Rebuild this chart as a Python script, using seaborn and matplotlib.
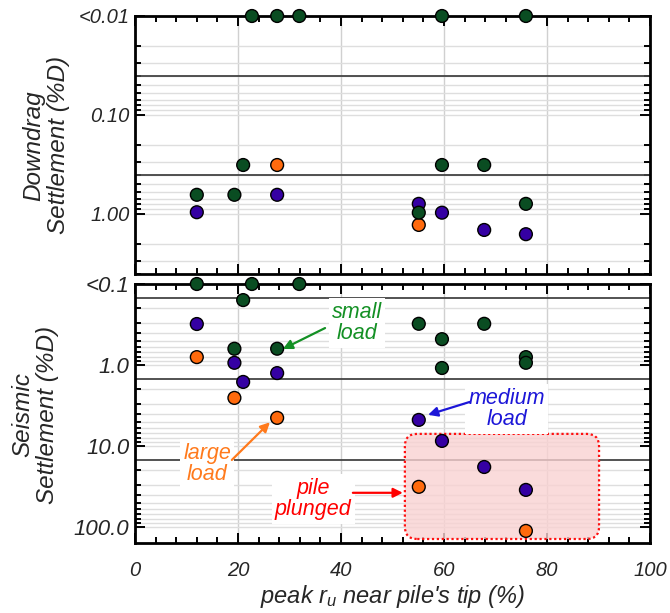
import numpy as np
import pandas as pd
import matplotlib
matplotlib.use('Agg')
import matplotlib.pyplot as plt
import seaborn as sns
from matplotlib.ticker import FixedLocator, FixedFormatter, MultipleLocator, LogLocator, NullFormatter
from matplotlib.patches import FancyBboxPatch

sns.set_style('ticks')
plt.rcParams['font.family'] = ['Liberation Sans', 'DejaVu Sans']
plt.rcParams['font.style'] = 'italic'
plt.rcParams['mathtext.fontset'] = 'custom'
plt.rcParams['mathtext.it'] = 'Liberation Sans:italic'
plt.rcParams['mathtext.rm'] = 'Liberation Sans:italic'

# ---------------- data ----------------
# Downdrag settlement (%D); "<0.01" plotted at 0.01
dd_small_x = [22.7, 27.6, 31.9, 59.6, 75.9, 21.0, 12.0, 19.3, 59.6, 67.8, 55.1, 75.9]
dd_small_y = [0.01, 0.01, 0.01, 0.01, 0.01, 0.32, 0.64, 0.64, 0.32, 0.32, 0.97, 0.79]
dd_medium_x = [12.0, 27.6, 55.1, 59.6, 67.8, 75.9]
dd_medium_y = [0.96, 0.64, 0.79, 0.97, 1.45, 1.60]
dd_large_x = [27.6, 55.1]
dd_large_y = [0.32, 1.29]

# Seismic settlement (%D); "<0.1" plotted at 0.1
s_small_x = [12.0, 22.7, 31.9, 21.0, 19.3, 27.6, 55.1, 67.8, 59.6, 75.9, 75.9, 59.6]
s_small_y = [0.1, 0.1, 0.1, 0.158, 0.63, 0.63, 0.31, 0.31, 0.48, 0.80, 0.94, 1.09]
s_medium_x = [12.0, 19.3, 27.6, 21.0, 55.1, 59.6, 67.8, 75.9]
s_medium_y = [0.312, 0.94, 1.26, 1.62, 4.77, 8.67, 18.2, 34.9]
s_large_x = [12.0, 19.3, 27.6, 55.1, 75.9]
s_large_y = [0.80, 2.55, 4.5, 32.0, 112.0]

load_names = ['medium', 'large', 'small']
load_colors = {'small': '#0a4d22', 'medium': '#3500a3', 'large': '#ff6a0d'}

top_ticks = [0.01, 0.1, 1.0]
top_labels = ['<0.01', '0.10', '1.00']
bot_ticks = [0.1, 1.0, 10.0, 100.0]
bot_labels = ['<0.1', '1.0', '10.0', '100.0']
x_ticks = [0, 20, 40, 60, 80, 100]
x_labels = ['0', '20', '40', '60', '80', '100']

top_ref_lines = [0.04, 0.4]
bot_ref_lines = [0.15, 1.5, 15.0]


def make_df(groups):
    rows = []
    for name, xs, ys in groups:
        for xv, yv in zip(xs, ys):
            rows.append({'ru': xv, 'settle': yv, 'load': name})
    return pd.DataFrame(rows)


df_dd = make_df([('medium', dd_medium_x, dd_medium_y),
                 ('large', dd_large_x, dd_large_y),
                 ('small', dd_small_x, dd_small_y)])
df_s = make_df([('medium', s_medium_x, s_medium_y),
                ('large', s_large_x, s_large_y),
                ('small', s_small_x, s_small_y)])

fig = plt.figure(figsize=(6.7, 6.13), dpi=100)
ax1 = fig.add_axes([0.2015, 0.553, 0.7687, 0.4209])
ax2 = fig.add_axes([0.2015, 0.1142, 0.7687, 0.4225])


def style_axis(ax, df, ylim, ticks, labels, reflines, ylab_size, show_x):
    sns.scatterplot(data=df, x='ru', y='settle', hue='load', palette=load_colors,
                    s=85, edgecolor='black', linewidth=1.0, legend=False,
                    ax=ax, zorder=6, clip_on=False)
    ax.set_yscale('log')
    ax.set_ylim(*ylim)
    ax.set_xlim(0, 100)
    ax.set_xlabel('')
    ax.set_ylabel('')
    ax.yaxis.set_major_locator(FixedLocator(ticks))
    ax.yaxis.set_major_formatter(FixedFormatter(labels))
    ax.yaxis.set_minor_locator(LogLocator(base=10, subs=np.arange(2, 10)))
    ax.yaxis.set_minor_formatter(NullFormatter())
    ax.xaxis.set_major_locator(FixedLocator(x_ticks))
    ax.xaxis.set_minor_locator(MultipleLocator(4))
    if show_x:
        ax.xaxis.set_major_formatter(FixedFormatter(x_labels))
    else:
        ax.xaxis.set_major_formatter(NullFormatter())
    ax.yaxis.grid(True, which='both', color='#dedede', lw=1.0, zorder=0)
    ax.xaxis.grid(True, which='major', color='#d0d0d0', lw=1.0, zorder=0)
    ax.set_axisbelow(True)
    for r in reflines:
        ax.axhline(r, color='#444444', lw=1.3, zorder=1)
    ax.tick_params(which='both', direction='in', top=True, right=True,
                   width=1.4, color='black')
    ax.tick_params(which='major', length=7)
    ax.tick_params(which='minor', length=4.5)
    ax.tick_params(axis='y', which='major', labelsize=ylab_size, pad=4)
    ax.tick_params(axis='x', which='major', labelsize=14.5, pad=13)
    for sp in ax.spines.values():
        sp.set_linewidth(2.0)
        sp.set_color('black')
        sp.set_zorder(5)


style_axis(ax1, df_dd, (4.04, 0.01), top_ticks, top_labels, top_ref_lines, 14.5, False)
style_axis(ax2, df_s, (158, 0.1), bot_ticks, bot_labels, bot_ref_lines, 16, True)

ax2.set_xlabel(r"peak $r_u$ near pile's tip (%)", fontsize=17, labelpad=2)
fig.text(0.0687, 0.763, 'Downdrag\nSettlement (%D)', rotation=90, ha='center',
         va='center', fontsize=17.5, linespacing=1.1)
fig.text(0.052, 0.323, 'Seismic\nSettlement (%D)', rotation=90, ha='center',
         va='center', fontsize=17.5, linespacing=1.1)

# pink "pile plunged" region
x0, x1, ya, yb = 52.4, 90.1, 7.1, 141.0
ylo, yhi = np.log10(0.1), np.log10(158)
fy = lambda v: 1 - (np.log10(v) - ylo) / (yhi - ylo)
box = FancyBboxPatch((x0 / 100, fy(yb)), (x1 - x0) / 100, fy(ya) - fy(yb),
                     boxstyle='round,pad=0,rounding_size=0.024',
                     mutation_aspect=515 / 259, transform=ax2.transAxes,
                     facecolor='#f9d2d2', alpha=0.8, edgecolor='none', zorder=2)
ax2.add_patch(box)
box2 = FancyBboxPatch((x0 / 100, fy(yb)), (x1 - x0) / 100, fy(ya) - fy(yb),
                      boxstyle='round,pad=0,rounding_size=0.024',
                      mutation_aspect=515 / 259, transform=ax2.transAxes,
                      facecolor='none', edgecolor='#ff1010', lw=1.6,
                      linestyle=(0, (1, 1.2)), zorder=3)
ax2.add_patch(box2)

bbox_w = dict(boxstyle='square,pad=0.15', facecolor='white', edgecolor='none')


def note(text, color, xy_text, tail, head):
    ax2.text(*xy_text, text, color=color, fontsize=15.5, ha='center', va='center',
             linespacing=1.05, bbox=bbox_w, zorder=7)
    ax2.annotate('', xy=head, xytext=tail,
                 arrowprops=dict(arrowstyle='-|>', color=color, lw=1.6,
                                 mutation_scale=14, shrinkA=0, shrinkB=0),
                 zorder=8)


note('small\nload', '#139024', (43.1, 0.303), (36.9, 0.35), (28.7, 0.635))
note('medium\nload', '#1c16d8', (72.2, 3.49), (65.0, 2.86), (56.9, 4.13))
note('large\nload', '#ff7a1c', (14.0, 16.7), (18.8, 14.9), (26.2, 5.1))
note('pile\nplunged', '#ff0000', (34.6, 45.2), (42.3, 37.9), (52.0, 37.9))

fig.savefig('out.png', dpi=100)
